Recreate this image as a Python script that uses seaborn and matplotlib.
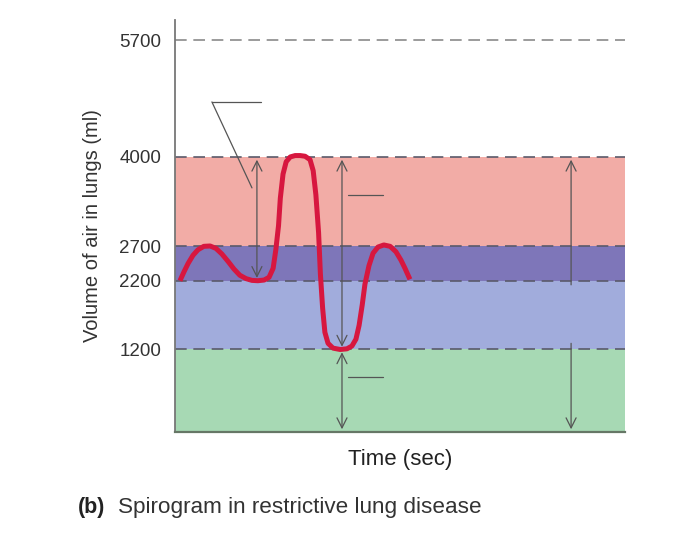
import numpy as np
import pandas as pd
import matplotlib
matplotlib.use("Agg")
import matplotlib.pyplot as plt
import seaborn as sns

sns.set_theme(style="white")
plt.rcParams['font.family'] = ['Liberation Sans', 'DejaVu Sans']

# Data
levels = [5700, 4000, 2700, 2200, 1200]
level_labels = ["5700", "4000", "2700", "2200", "1200"]
bands = [(0, 1200), (1200, 2200), (2200, 2700), (2700, 4000)]
band_colors = ["#a7d9b4", "#a1acdc", "#7e76b9", "#f2aca6"]

# spirogram trace (time in sec, volume in ml)
t_sec = [0.11, 0.20, 0.29, 0.40, 0.51, 0.64, 0.78, 0.91, 1.04, 1.18, 1.31, 1.44,
         1.58, 1.71, 1.84, 1.98, 2.09, 2.18, 2.24, 2.30, 2.34, 2.40, 2.47, 2.56,
         2.67, 2.78, 2.89, 3.00, 3.07, 3.13, 3.19, 3.23, 3.28, 3.33, 3.40, 3.51,
         3.67, 3.82, 3.93, 4.02, 4.09, 4.16, 4.22, 4.31, 4.40, 4.51, 4.64, 4.78,
         4.91, 5.02, 5.11, 5.22]
vol_ml = [2200, 2330, 2450, 2570, 2650, 2700, 2705, 2670, 2590, 2480, 2370, 2280,
          2230, 2205, 2200, 2210, 2250, 2380, 2650, 3000, 3400, 3750, 3930, 4000,
          4020, 4020, 4010, 3960, 3800, 3450, 2900, 2300, 1800, 1450, 1290, 1220,
          1200, 1210, 1250, 1350, 1550, 1850, 2150, 2420, 2600, 2690, 2720, 2700,
          2620, 2500, 2380, 2220]

df = pd.DataFrame({"t": t_sec, "v": vol_ml})

fig = plt.figure(figsize=(7, 5.5), dpi=100)
ax = fig.add_axes([0.25, 0.2145, 0.643, 0.749])
ax.set_xlim(0, 10)
ax.set_ylim(0, 5990)

for (lo, hi), c in zip(bands, band_colors):
    ax.axhspan(lo, hi, color=c, lw=0, zorder=0)

for lv in levels:
    col = "#8a8a8a" if lv == 5700 else "#5a5a6a"
    ax.axhline(lv, color=col, lw=1.2, dashes=(7, 4), zorder=1)

sns.lineplot(data=df, x="t", y="v", ax=ax, color="#d7173f", lw=3.6,
             sort=False, zorder=5, solid_capstyle="butt")

arrow_kw = dict(arrowstyle="<->,head_length=0.6,head_width=0.3", color="#555555", lw=0.9)
ax.annotate("", xy=(1.82, 4000), xytext=(1.82, 2200), arrowprops=arrow_kw, zorder=4)
ax.annotate("", xy=(3.71, 4000), xytext=(3.71, 1200), arrowprops=arrow_kw, zorder=4)
ax.annotate("", xy=(3.71, 1200), xytext=(3.71, 0), arrowprops=arrow_kw, zorder=4)
one_kw = dict(arrowstyle="->,head_length=0.6,head_width=0.3", color="#555555", lw=0.9)
ax.annotate("", xy=(8.8, 4000), xytext=(8.8, 2100), arrowprops=one_kw, zorder=4)
ax.annotate("", xy=(8.8, 0), xytext=(8.8, 1330), arrowprops=one_kw, zorder=4)

# leader lines
ax.plot([0.82, 1.91], [4800, 4800], color="#555555", lw=0.9, clip_on=False)
ax.plot([0.82, 1.71], [4800, 3550], color="#555555", lw=0.9, clip_on=False)
ax.plot([3.84, 4.62], [3450, 3450], color="#555555", lw=0.9)
ax.plot([3.84, 4.62], [800, 800], color="#555555", lw=0.9)

ax.set_yticks(levels)
ax.set_yticklabels(level_labels, fontsize=13.5, color="#333333")
ax.set_xticks([])
ax.tick_params(axis="y", length=0, pad=10)
ax.set_ylabel("Volume of air in lungs (ml)", fontsize=14.5, color="#333333", labelpad=12)
ax.set_xlabel("Time (sec)", fontsize=16, color="#222222", labelpad=12)

for s in ["top", "right"]:
    ax.spines[s].set_visible(False)
ax.spines["left"].set_color("#777777")
ax.spines["left"].set_linewidth(1.3)
ax.spines["bottom"].set_color("#667766")
ax.spines["bottom"].set_linewidth(1.6)

fig.text(0.111, 0.068, "(b)", fontsize=15.5, fontweight="bold", color="#222222")
fig.text(0.168, 0.068, "Spirogram in restrictive lung disease", fontsize=16.2, color="#333333")

fig.savefig("out.png", dpi=100)
